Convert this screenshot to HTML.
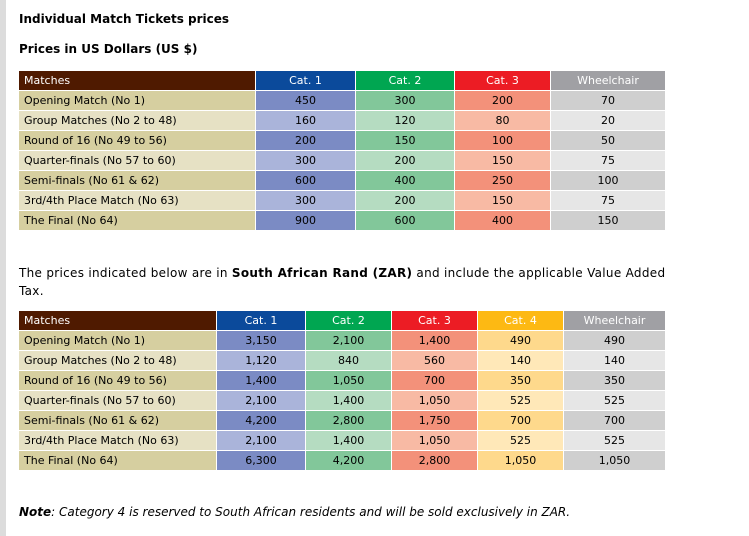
<!DOCTYPE html>
<html><head><meta charset="utf-8"><style>
body{margin:0;width:749px;height:536px;background:#fff;position:relative;overflow:hidden;font-family:"DejaVu Sans","Liberation Sans",sans-serif;color:#000}
.strip{position:absolute;left:0;top:0;width:6px;height:536px;background:#dcdcdc}
.t{position:absolute;white-space:nowrap}
.c{position:absolute;height:19px;line-height:19px;font-size:11px;box-sizing:border-box;overflow:hidden}
</style></head><body>
<div class="strip"></div>
<div class="t" style="left:19px;top:12px;font-size:12px;font-weight:bold">Individual Match Tickets prices</div>
<div class="t" style="left:19px;top:42px;font-size:12px;font-weight:bold">Prices in US Dollars (US $)</div>
<div id="usd"></div>
<div class="t" style="left:19px;top:264px;font-size:12px;line-height:18px;white-space:normal;width:652px;letter-spacing:0.3px">The prices indicated below are in <b>South African Rand (ZAR)</b> and include the applicable Value Added Tax.</div>
<div id="zar"></div>
<div class="t" style="left:19px;top:505px;font-size:12px;font-style:italic"><b>Note</b>: Category 4 is reserved to South African residents and will be sold exclusively in ZAR.</div>
<script>
const matches=["Opening Match (No 1)","Group Matches (No 2 to 48)","Round of 16 (No 49 to 56)","Quarter-finals (No 57 to 60)","Semi-finals (No 61 & 62)","3rd/4th Place Match (No 63)","The Final (No 64)"];
const usdHeaders=["Matches","Cat. 1","Cat. 2","Cat. 3","Wheelchair"];
const usdCat1=["450","160","200","300","600","300","900"];
const usdCat2=["300","120","150","200","400","200","600"];
const usdCat3=["200","80","100","150","250","150","400"];
const usdWheel=["70","20","50","75","100","75","150"];
const zarHeaders=["Matches","Cat. 1","Cat. 2","Cat. 3","Cat. 4","Wheelchair"];
const zarCat1=["3,150","1,120","1,400","2,100","4,200","2,100","6,300"];
const zarCat2=["2,100","840","1,050","1,400","2,800","1,400","4,200"];
const zarCat3=["1,400","560","700","1,050","1,750","1,050","2,800"];
const zarCat4=["490","140","350","525","700","525","1,050"];
const zarWheel=["490","140","350","525","700","525","1,050"];

const pal={m:["#4f1a00","#d6cfa0","#e6e1c4"],c1:["#0b4a9b","#7b8bc4","#aab4da"],c2:["#00a651","#82c79a","#b5dcc1"],c3:["#ec1c24","#f3917a","#f8baa4"],c4:["#fdb913","#fed98c","#ffe8b8"],w:["#a0a0a4","#cfcfcf","#e6e6e6"]};
function build(id,top,edges,headers,cols,keys){
  const host=document.getElementById(id);
  const all=[matches].concat(cols);
  for(let ci=0;ci<headers.length;ci++){
    const x=edges[ci],w=edges[ci+1]-x-1,p=pal[keys[ci]];
    for(let r=-1;r<matches.length;r++){
      const d=document.createElement('div');d.className='c';
      
      
      d.style.left=x+'px';d.style.top=(top+(r+1)*20)+'px';d.style.width=w+'px';
      d.style.background=r<0?p[0]:p[1+(r%2)];
      d.style.textAlign=ci==0?'left':'center';
      if(ci==0)d.style.paddingLeft='5px';
      if(r<0)d.style.color='#fff';
      d.textContent=r<0?headers[ci]:all[ci][r];
      host.appendChild(d);
    }
  }
}
build('usd',71,[19,256,356,455,551,666],usdHeaders,[usdCat1,usdCat2,usdCat3,usdWheel],['m','c1','c2','c3','w']);
build('zar',311,[19,217,306,392,478,564,666],zarHeaders,[zarCat1,zarCat2,zarCat3,zarCat4,zarWheel],['m','c1','c2','c3','c4','w']);
</script>
</body></html>
